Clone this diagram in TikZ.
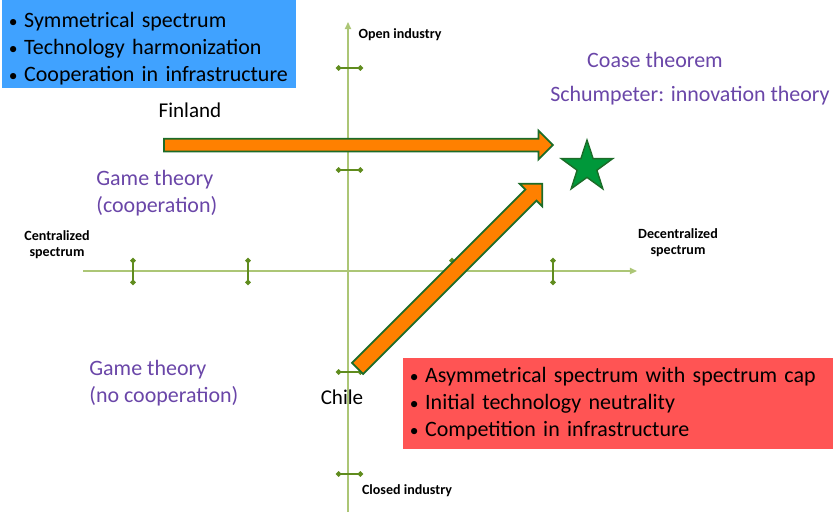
\documentclass[tikz,border=0pt]{standalone}
\usepackage{fontspec}
\setmainfont{Carlito}
\usetikzlibrary{shapes.geometric, shapes.arrows, arrows.meta}

\definecolor{axisgreen}{RGB}{172,198,118}
\definecolor{tickgreen}{RGB}{96,140,30}
\definecolor{boxblue}{RGB}{64,162,255}
\definecolor{boxred}{RGB}{255,84,84}
\definecolor{theorypurple}{RGB}{106,70,168}
\definecolor{arroworange}{RGB}{255,128,0}
\definecolor{arrowgreen}{RGB}{28,108,40}
\definecolor{stargreen}{RGB}{0,152,58}

\newcommand{\bul}{{\fontsize{10}{10}\selectfont\textbullet}\hspace{0.3em}}

\tikzset{
  axislabel/.style={font=\fontsize{8}{9}\selectfont\bfseries, align=center, inner sep=0},
  theory/.style={text=theorypurple, font=\fontsize{12.5}{15.4}\selectfont, align=left, inner sep=0},
  country/.style={font=\fontsize{12}{14}\selectfont, inner sep=0},
  bulletbox/.style={font=\fontsize{12.5}{15.4}\selectfont, align=left, anchor=north west,
    inner xsep=0.13cm, inner ysep=0},
  bigarrow/.style={single arrow, draw=arrowgreen, fill=arroworange, line width=1pt,
    single arrow head extend=0.16cm, anchor=tail},
  tickmark/.style={tickgreen, line width=0.9pt, {Circle[length=3pt]}-{Circle[length=3pt]}}
}

\begin{document}
\begin{tikzpicture}[x=0.02cm, y=-0.02cm]
    \useasboundingbox (0,0) rectangle (833,512);

    % axes
    \coordinate (west) at (83,271);
    \coordinate (east) at (637,271);
    \coordinate (south) at (348,512);
    \coordinate (north) at (348,22);
    \draw[axisgreen, line width=0.9pt, -{Triangle[length=4pt, width=3.5pt]}] (west) -- (east);
    \draw[axisgreen, line width=0.9pt, -{Triangle[length=4pt, width=3.5pt]}] (south) -- (north);
    \foreach \x in {133,248,452,553}
        \draw[tickmark] (\x,258) -- (\x,285);
    \foreach \y in {68,170,372,474}
        \draw[tickmark] (336,\y) -- (363,\y);

    \node[axislabel] (open) at (400,35) {Open industry};
    \node[axislabel] (closed) at (407,491) {Closed industry};
    \node[axislabel] (central) at (57,245) {Centralized\\spectrum};
    \node[axislabel] (decentral) at (678,243) {Decentralized\\spectrum};

    % bullet boxes
    \node[bulletbox, fill=boxblue, text width=5.62cm, minimum height=1.76cm] (finbox) at (2,0)
        {\rule{0pt}{13.5pt}\bul Symmetrical spectrum\\\bul Technology harmonization\\\bul Cooperation in infrastructure};
    \node[bulletbox, fill=boxred, text width=8.34cm, minimum height=1.82cm] (chilebox) at (403,358)
        {\bul Asymmetrical spectrum with spectrum cap\\\bul Initial technology neutrality\\\bul Competition in infrastructure};

    % theories
    \node[theory, anchor=west] (coop) at (96,193) {Game theory\\(cooperation)};
    \node[theory, anchor=west] (nocoop) at (89,383) {Game theory\\(no cooperation)};
    \node[theory] (coase) at (655,60) {Coase theorem};
    \node[theory] (schumpeter) at (690,96) {Schumpeter: innovation theory};

    % countries and paths
    \node[country] (finland) at (190,110) {Finland};
    \node[country] (chile) at (342,397) {Chile};
    \node[bigarrow, minimum height=7.78cm, inner sep=0.11cm] (finpath) at (163,145) {};
    \node[bigarrow, minimum height=5.22cm, inner sep=0.14cm, rotate=45] (chilepath) at (357,369) {};
    \node[star, star points=5, star point ratio=2.6, fill=stargreen, draw=arrowgreen,
        line width=0.8pt, minimum size=1.08cm, inner sep=0] (goal) at (587,167) {};
\end{tikzpicture}
\end{document}
